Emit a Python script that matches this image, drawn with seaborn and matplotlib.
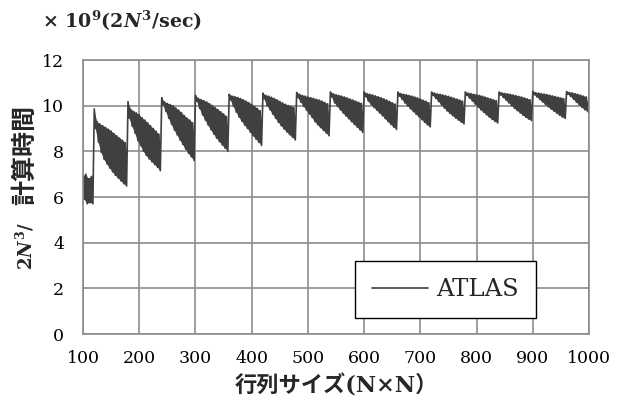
import pandas as pd
import seaborn as sns
import matplotlib.pyplot as plt

# 行列サイズ N ごとの性能 (x 10^9 2N^3/sec)、ATLAS
# ブロックの開始サイズ(60刻みで性能が落ちる)
block_start = [100, 120, 180, 240, 300, 360, 420, 480, 540, 600,
               660, 720, 780, 840, 900, 960]
step = 5  # 読み取り間隔 (N)

# 各ブロック内の上側の値 (N = start, start+5, ...)
upper = [
    [6.9, 7.0, 6.8, 6.9],
    [9.86, 9.3, 9.2, 9.12, 9.05, 8.97, 8.89, 8.78, 8.68, 8.58, 8.49, 8.38],
    [10.18, 9.84, 9.75, 9.68, 9.6, 9.47, 9.37, 9.25, 9.12, 9.0, 8.88, 8.75],
    [10.35, 10.16, 10.1, 10.05, 10.0, 9.9, 9.81, 9.7, 9.57, 9.46, 9.37, 9.25],
    [10.45, 10.32, 10.27, 10.22, 10.16, 10.09, 10.01, 9.92, 9.83, 9.73, 9.64, 9.53],
    [10.5, 10.42, 10.4, 10.36, 10.32, 10.26, 10.2, 10.13, 10.06, 9.97, 9.88, 9.78],
    [10.55, 10.45, 10.42, 10.37, 10.32, 10.26, 10.19, 10.12, 10.06, 10.01, 9.97, 9.92],
    [10.58, 10.5, 10.45, 10.42, 10.38, 10.35, 10.32, 10.28, 10.25, 10.2, 10.14, 10.08],
    [10.6, 10.52, 10.48, 10.45, 10.42, 10.38, 10.34, 10.29, 10.25, 10.2, 10.15, 10.1],
    [10.6, 10.53, 10.5, 10.47, 10.43, 10.39, 10.35, 10.3, 10.25, 10.19, 10.13, 10.07],
    [10.6, 10.53, 10.5, 10.48, 10.45, 10.42, 10.38, 10.34, 10.29, 10.24, 10.19, 10.13],
    [10.6, 10.55, 10.52, 10.5, 10.47, 10.44, 10.41, 10.37, 10.33, 10.29, 10.25, 10.2],
    [10.6, 10.55, 10.53, 10.5, 10.48, 10.45, 10.42, 10.38, 10.34, 10.3, 10.26, 10.22],
    [10.6, 10.56, 10.54, 10.52, 10.5, 10.47, 10.44, 10.41, 10.38, 10.34, 10.3, 10.26],
    [10.62, 10.57, 10.55, 10.53, 10.51, 10.49, 10.46, 10.43, 10.4, 10.37, 10.34, 10.31],
    [10.62, 10.58, 10.56, 10.53, 10.5, 10.46, 10.42, 10.38],
]

# 各ブロック内の下側の値 (N = start+2.5, start+7.5, ...)
lower = [
    [5.9, 5.7, 5.75, 5.7],
    [9.0, 8.4, 7.95, 7.65, 7.45, 7.27, 7.1, 6.95, 6.83, 6.7, 6.58, 6.48],
    [9.45, 9.1, 8.8, 8.47, 8.25, 8.0, 7.82, 7.67, 7.54, 7.42, 7.3, 7.15],
    [10.05, 9.75, 9.45, 9.18, 8.93, 8.72, 8.5, 8.3, 8.1, 7.92, 7.76, 7.6],
    [10.2, 9.88, 9.6, 9.37, 9.15, 8.95, 8.76, 8.58, 8.43, 8.28, 8.14, 8.0],
    [10.25, 9.98, 9.72, 9.5, 9.32, 9.15, 9.0, 8.84, 8.68, 8.54, 8.4, 8.26],
    [10.3, 10.0, 9.82, 9.63, 9.45, 9.27, 9.12, 8.98, 8.85, 8.73, 8.62, 8.5],
    [10.35, 10.15, 9.97, 9.8, 9.64, 9.48, 9.3, 9.16, 9.04, 8.92, 8.8, 8.68],
    [10.38, 10.12, 9.97, 9.82, 9.68, 9.55, 9.43, 9.3, 9.18, 9.06, 8.94, 8.83],
    [10.4, 10.2, 10.05, 9.92, 9.8, 9.68, 9.56, 9.43, 9.3, 9.18, 9.06, 8.96],
    [10.42, 10.28, 10.12, 9.99, 9.86, 9.74, 9.62, 9.51, 9.39, 9.27, 9.16, 9.07],
    [10.45, 10.32, 10.18, 10.04, 9.9, 9.77, 9.66, 9.56, 9.46, 9.37, 9.28, 9.2],
    [10.45, 10.33, 10.2, 10.07, 9.94, 9.82, 9.71, 9.6, 9.5, 9.4, 9.31, 9.24],
    [10.47, 10.36, 10.24, 10.12, 10.0, 9.88, 9.78, 9.68, 9.58, 9.49, 9.41, 9.35],
    [10.48, 10.38, 10.27, 10.16, 10.05, 9.95, 9.85, 9.76, 9.67, 9.58, 9.5, 9.44],
    [10.5, 10.4, 10.28, 10.15, 10.03, 9.92, 9.82, 9.74],
]

last_n = 1000
last_value = 10.4

x_ticks = list(range(100, 1001, 100))
y_ticks = list(range(0, 13, 2))

# 上下の値を交互に並べて系列を作る
n_vals, perf = [], []
for s, hi, lo in zip(block_start, upper, lower):
    for j in range(len(hi)):
        n_vals.append(s + step * j)
        perf.append(hi[j])
        n_vals.append(s + step * j + step / 2)
        perf.append(lo[j])
n_vals.append(last_n)
perf.append(last_value)
df = pd.DataFrame({"N": n_vals, "perf": perf})

sns.set_style("white")
plt.rcParams["font.family"] = ["DejaVu Serif", "Noto Sans CJK JP"]
plt.rcParams["mathtext.fontset"] = "custom"
plt.rcParams["mathtext.rm"] = "DejaVu Serif:bold"
plt.rcParams["mathtext.bf"] = "DejaVu Serif:bold"
plt.rcParams["mathtext.it"] = "DejaVu Serif:bold:italic"

line_c = "#404040"
grid_c = "#8c8c8c"
fig = plt.figure(figsize=(6.29, 4.05), dpi=100)
ax = fig.add_axes([0.132, 0.1753, 0.8045, 0.6765])

# 振動が細かいので、各ブロックの上下の包絡を塗りつぶす
for s, hi, lo in zip(block_start, upper, lower):
    xs = [s + step * j for j in range(len(hi))]
    xs += [s + step * j + step / 2 for j in reversed(range(len(lo)))]
    ys = list(hi) + list(reversed(lo))
    ax.fill(xs, ys, color=line_c, lw=0)

sns.lineplot(data=df, x="N", y="perf", ax=ax, color=line_c, lw=1.2,
             sort=False, estimator=None, label="ATLAS")

ax.set_xlim(100, 1000)
ax.set_ylim(0, 12)
ax.set_xticks(x_ticks)
ax.set_yticks(y_ticks)
ax.grid(True, color=grid_c, lw=1.2)
ax.set_axisbelow(True)
for sp in ax.spines.values():
    sp.set_color(grid_c)
    sp.set_linewidth(1.2)
ax.tick_params(axis="both", direction="out", length=4.5, width=1.2,
               color=grid_c, labelsize=12.5, labelcolor="black")
ax.tick_params(axis="x", pad=7)
ax.tick_params(axis="y", pad=9)

ax.set_xlabel("行列サイズ(N×N）", fontsize=16, fontweight="bold", labelpad=5)
ax.set_ylabel("")

# 縦軸ラベル (数式部分と漢字部分)
fig.text(0.04, 1 - 270 / 405, r"$2N^3$/", rotation=90, ha="center",
         va="bottom", fontsize=13, fontweight="bold")
fig.text(0.04, 1 - 205 / 405, "計算時間", rotation=90, ha="center",
         va="bottom", fontsize=18, fontweight="bold")

# 単位
fig.text(42 / 629, 1 - 21 / 405, r"$\times\ 10^9(2N^3/\mathrm{sec})$",
         ha="left", va="center", fontsize=13.7)

leg = ax.legend(loc="upper left", bbox_to_anchor=(0.5375, 0.266),
                borderaxespad=0, fontsize=17.5, frameon=True, fancybox=False,
                edgecolor="black", framealpha=1, borderpad=0.7,
                handlelength=2.3, handletextpad=0.35)
leg.get_frame().set_linewidth(1.0)

fig.savefig("out.png", dpi=100)
